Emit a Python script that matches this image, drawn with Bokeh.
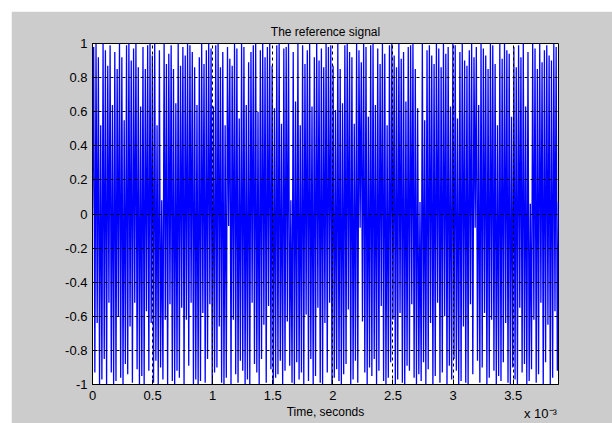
import numpy as np
from bokeh.plotting import figure
from bokeh.models import (FixedTicker, CustomJSTickFormatter, LinearAxis,
                          Range1d, ColumnDataSource)
from bokeh.embed import file_html
from bokeh.resources import INLINE

# ---- data ----
title_text = "The reference signal"
x_label = "Time, seconds"
x_multiplier = "x 10\u207b\u00b3" + "\u00a0" * 10
sample_period = 1.0 / 102400.0
signal = [
    0.00, 0.98, -0.93, 1.00, -0.64, 0.92, -1.00, 0.52, -0.97, 1.00,
    -0.85, 0.96, -1.00, 0.87, -0.52, 0.99, -0.93, 0.64, -1.00, 0.95,
    -0.98, 0.85, -0.60, 1.00, -0.96, 0.92, -1.00, 0.55, -0.88, 0.99,
    -0.94, 1.00, -0.66, 0.90, -0.99, 0.97, -0.52, 1.00, -0.91, 0.86,
    -1.00, 0.63, -0.95, 0.98, -1.00, 0.85, -0.57, 0.99, -0.92, 1.00,
    -0.64, 0.93, -0.99, 1.00, -0.86, 0.52, -1.00, 0.96, -0.90, 0.08,
    -0.97, 1.00, -0.62, 0.88, -1.00, 0.94, -0.53, 0.99, -0.98, 0.85,
    -1.00, 0.65, -0.92, 1.00, -0.96, 0.87, -0.55, 0.98, -1.00, 0.93,
    -0.62, 1.00, -0.89, 0.99, -0.52, 0.95, -1.00, 0.86, -0.97, 0.64,
    -1.00, 0.92, -0.98, 1.00, -0.58, 0.88, -0.99, 0.96, -0.85, 1.00,
    -0.53, 0.97, -1.00, 0.63, -0.93, 0.99, -0.90, 1.00, -0.66, 0.86,
    -0.99, 0.95, -1.00, 0.52, -0.96, 0.98, -0.07, 0.91, -1.00, 0.87,
    -0.62, 1.00, -0.94, 0.97, -0.99, 0.56, -0.86, 1.00, -0.92, 0.98,
    -1.00, 0.64, -0.97, 0.89, -1.00, 0.95, -0.52, 0.99, -0.88, 1.00,
    -0.93, 0.60, -1.00, 0.96, -0.85, 1.00, -0.65, 0.92, -0.99, 0.98,
    -0.54, 1.00, -0.91, 0.87, -1.00, 0.62, -0.96, 0.99, -0.94, 1.00,
    -0.86, 0.53, -1.00, 0.97, -0.92, 0.98, -0.63, 1.00, -0.89, 0.08,
    -0.99, 0.95, -1.00, 0.66, -0.87, 1.00, -0.97, 0.52, -0.93, 0.99,
    -1.00, 0.88, -0.59, 0.96, -0.98, 1.00, -0.85, 0.63, -1.00, 0.92,
    -0.95, 1.00, -0.55, 0.90, -0.99, 0.97, -1.00, 0.86, -0.64, 1.00,
    -0.93, 0.98, -0.52, 0.99, -1.00, 0.87, -0.96, 0.61, -0.91, 1.00,
    -0.98, 0.85, -1.00, 0.65, -0.94, 0.99, -0.88, 1.00, -0.56, 0.95,
    -1.00, 0.92, -0.97, 0.53, -0.86, 1.00, -0.99, 0.96, -0.08, 0.89,
    -0.63, 1.00, -0.93, 0.98, -1.00, 0.57, -0.90, 0.99, -0.95, 1.00,
    -0.85, 0.64, -1.00, 0.97, -0.92, 0.88, -0.54, 1.00, -0.98, 0.94,
    -1.00, 0.52, -0.96, 0.99, -0.87, 1.00, -0.62, 0.93, -1.00, 0.86,
    -0.97, 1.00, -0.58, 0.91, -0.99, 0.95, -1.00, 0.66, -0.89, 0.98,
    -0.92, 0.99, -0.53, 1.00, -0.96, 0.85, -1.00, 0.62, -0.94, 0.07,
    -0.98, 1.00, -0.87, 0.55, -1.00, 0.96, -0.91, 0.99, -0.64, 0.93,
    -1.00, 0.88, -0.95, 1.00, -0.52, 0.97, -0.99, 0.86, -0.93, 1.00,
    -0.60, 0.94, -1.00, 0.98, -0.89, 0.63, -0.97, 1.00, -0.85, 0.99,
    -0.92, 0.56, -1.00, 0.95, -0.98, 1.00, -0.66, 0.90, -0.99, 0.87,
    -1.00, 0.96, -0.53, 1.00, -0.94, 0.92, -0.08, 0.98, -0.86, 0.64,
    -0.99, 1.00, -0.90, 0.97, -0.58, 0.93, -1.00, 0.85, -0.96, 1.00,
    -0.62, 0.99, -0.92, 0.88, -1.00, 0.52, -0.95, 1.00, -0.98, 0.91,
    -0.87, 1.00, -0.64, 0.96, -0.99, 0.94, -1.00, 0.57, -0.90, 0.98,
    -0.97, 0.86, -1.00, 0.99, -0.55, 0.92, -0.93, 1.00, -0.88, 0.63,
    -1.00, 0.95, -0.98, 0.06, -0.91, 1.00, -0.62, 0.97, -0.99, 0.85,
    -0.94, 1.00, -0.52, 0.89, -1.00, 0.96, -0.87, 0.99, -0.65, 0.93,
    -1.00, 0.90, -0.96, 1.00, -0.57, 0.98, -0.92, 0.07,
]
x_ticks = [0.0, 0.0005, 0.001, 0.0015, 0.002, 0.0025, 0.003, 0.0035]
y_ticks = [-1.0, -0.8, -0.6, -0.4, -0.2, 0.0, 0.2, 0.4, 0.6, 0.8, 1.0]

t = np.arange(len(signal)) * sample_period
source = ColumnDataSource(data=dict(t=t, v=signal))

FONT = "Liberation Sans"
GRAY = "#cccccc"

p = figure(width=601, height=412, output_backend="svg", toolbar_location=None,
           x_range=Range1d(0, t[-1]), y_range=Range1d(-1, 1),
           min_border_left=81, min_border_right=54, min_border_top=32,
           min_border_bottom=38, margin=(11, 0, 0, 11))
p.border_fill_color = GRAY
p.background_fill_color = "white"
p.outline_line_color = "black"
p.outline_line_width = 1

p.title.text = title_text
p.title.align = "center"
p.title.text_font = FONT
p.title.text_font_size = "12px"
p.title.text_font_style = "normal"
p.title.text_color = "black"

p.line("t", "v", source=source, line_color="#0000ff", line_width=1.3)

xfmt = CustomJSTickFormatter(code="return String(Math.round(tick*1e4)/10)")
yfmt = CustomJSTickFormatter(code="return String(Math.round(tick*10)/10)")

for ax, tk, fmt in ((p.xaxis[0], x_ticks, xfmt), (p.yaxis[0], y_ticks, yfmt)):
    ax.ticker = FixedTicker(ticks=tk)
    ax.formatter = fmt
    ax.major_tick_in = 5
    ax.major_tick_out = 0
    ax.minor_tick_line_color = None
    ax.axis_line_color = "black"
    ax.major_tick_line_color = "black"
    ax.major_label_text_font = FONT
    ax.major_label_text_font_size = "13px"
    ax.major_label_text_color = "black"
    ax.major_label_standoff = 5

xa = p.xaxis[0]
xa.major_label_standoff = 6
xa.axis_label = x_label
xa.axis_label_standoff = 2
xa.axis_label_text_font = FONT
xa.axis_label_text_font_size = "12px"
xa.axis_label_text_font_style = "normal"
xa.axis_label_text_color = "black"

# multiplier text ("x 10^-3") under the right end of the time axis
mult = LinearAxis(ticker=FixedTicker(ticks=[]), axis_line_color=None,
                  major_tick_line_color=None, minor_tick_line_color=None,
                  axis_label=x_multiplier, axis_label_align="end",
                  axis_label_standoff=-16, axis_label_text_font=FONT,
                  axis_label_text_font_size="13px",
                  axis_label_text_font_style="normal",
                  axis_label_text_color="black")
p.add_layout(mult, "below")

for g, tk in ((p.xgrid[0], x_ticks), (p.ygrid[0], y_ticks)):
    g.ticker = FixedTicker(ticks=tk)
    g.grid_line_color = "black"
    g.grid_line_dash = "3 3"
    g.grid_line_alpha = 1.0
    g.level = "overlay"

open("out.html", "w").write(file_html(p, INLINE))
